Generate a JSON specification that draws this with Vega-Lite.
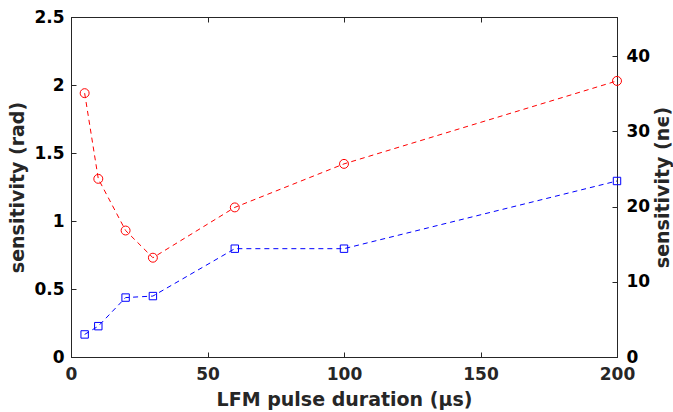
{
  "$schema": "https://vega.github.io/schema/vega-lite/v6.json",
  "width": 546,
  "height": 340,
  "autosize": {"type": "none"},
  "padding": {"left": 71, "top": 17, "right": 56, "bottom": 55},
  "config": {
    "view": {"stroke": "#262626", "strokeWidth": 1},
    "font": "DejaVu Sans",
    "axis": {
      "labelFont": "DejaVu Sans",
      "labelFontWeight": "bold",
      "labelFontSize": 17,
      "labelColor": "#000000",
      "labelFlush": false,
      "titleFont": "DejaVu Sans",
      "titleFontWeight": "bold",
      "titleFontSize": 19,
      "titleColor": "#262626",
      "domainColor": "#262626",
      "tickColor": "#262626",
      "grid": false
    }
  },
  "data": {
    "values": [
      {"d": 5, "rad": 1.94, "ne": 3.0},
      {"d": 10, "rad": 1.31, "ne": 4.1},
      {"d": 20, "rad": 0.93, "ne": 7.9},
      {"d": 30, "rad": 0.73, "ne": 8.1},
      {"d": 60, "rad": 1.10, "ne": 14.4},
      {"d": 100, "rad": 1.42, "ne": 14.4},
      {"d": 200, "rad": 2.03, "ne": 23.4}
    ]
  },
  "layer": [
    {
      "layer": [
        {
          "mark": {"type": "line", "color": "#ff0000", "strokeDash": [5, 4], "strokeWidth": 1},
          "encoding": {
            "x": {"field": "d", "type": "quantitative", "scale": {"domain": [0, 200], "nice": false, "zero": false},
              "axis": {"orient": "bottom", "title": "LFM pulse duration (μs)", "values": [0, 50, 100, 150, 200], "tickSize": -5, "labelPadding": 14, "labelColor": "#262626", "titlePadding": 8}},
            "y": {"field": "rad", "type": "quantitative", "scale": {"domain": [0, 2.5], "nice": false},
              "axis": {"orient": "left", "title": "sensitivity (rad)", "values": [0, 0.5, 1, 1.5, 2, 2.5], "format": "~g", "tickSize": -5, "labelPadding": 12, "titlePadding": 6}}
          }
        },
        {
          "mark": {"type": "point", "shape": "circle", "color": "#ff0000", "filled": false, "size": 80, "strokeWidth": 1, "opacity": 1},
          "encoding": {
            "x": {"field": "d", "type": "quantitative", "scale": {"domain": [0, 200], "nice": false, "zero": false}},
            "y": {"field": "rad", "type": "quantitative"}
          }
        }
      ]
    },
    {
      "layer": [
        {
          "mark": {"type": "line", "color": "#0000ff", "strokeDash": [5, 4], "strokeWidth": 1},
          "encoding": {
            "x": {"field": "d", "type": "quantitative", "scale": {"domain": [0, 200], "nice": false, "zero": false},
              "axis": {"orient": "top", "title": null, "labels": false, "values": [0, 50, 100, 150, 200], "tickSize": -5}},
            "y": {"field": "ne", "type": "quantitative", "scale": {"domain": [0, 45.2], "nice": false},
              "axis": {"orient": "right", "title": "sensitivity (nϵ)", "titleAngle": 270, "values": [0, 10, 20, 30, 40], "tickSize": -5, "labelPadding": 14, "titlePadding": 23}}
          }
        },
        {
          "mark": {"type": "point", "shape": "square", "color": "#0000ff", "filled": false, "size": 55, "strokeWidth": 1, "opacity": 1},
          "encoding": {
            "x": {"field": "d", "type": "quantitative", "scale": {"domain": [0, 200], "nice": false, "zero": false}},
            "y": {"field": "ne", "type": "quantitative"}
          }
        }
      ]
    }
  ],
  "resolve": {"scale": {"y": "independent"}}
}
